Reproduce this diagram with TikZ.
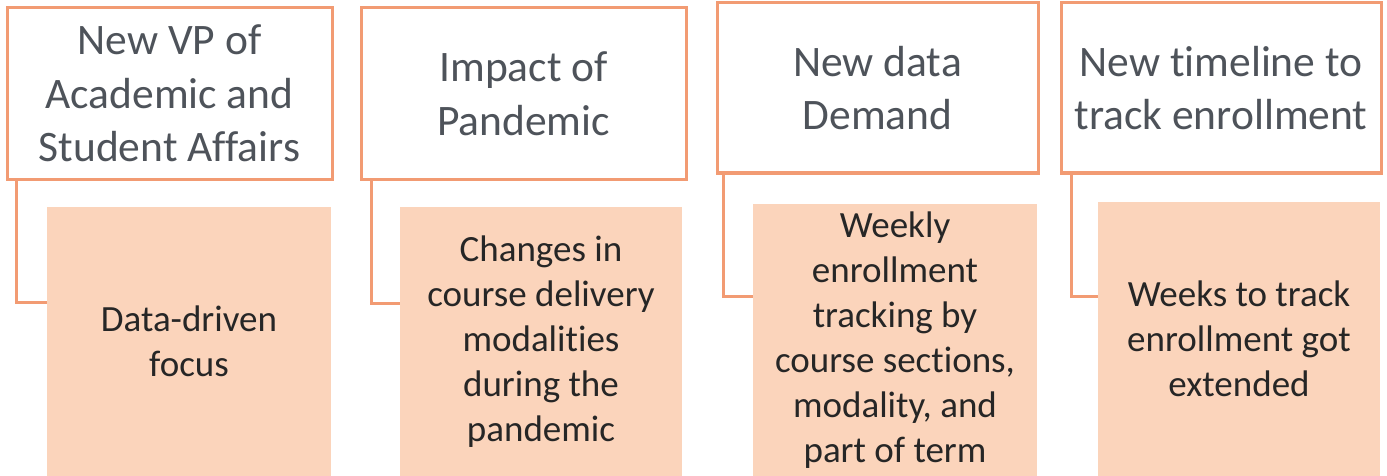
\documentclass[tikz,border=0pt]{standalone}
\usepackage{fontspec}
\setmainfont{Carlito}[RawFeature={-liga}]
\definecolor{orangeline}{RGB}{242,155,115}
\definecolor{peach}{RGB}{251,212,187}
\definecolor{toptext}{RGB}{78,83,90}
\definecolor{bottext}{RGB}{38,38,38}
\begin{document}
\begin{tikzpicture}[x=1pt,y=-1pt,
  topbox/.style={draw=orangeline,line width=3pt,fill=white,inner sep=0pt,align=center,
    text=toptext,font=\fontsize{43.5}{53.5}\selectfont},
  botbox/.style={fill=peach,inner sep=0pt,align=center,
    text=bottext,font=\fontsize{37}{45}\selectfont},
  conn/.style={draw=orangeline,line width=3pt}]
\useasboundingbox[fill=white] (0,0) rectangle (1387,476);
% top boxes
\node[topbox,minimum width=325pt,minimum height=171pt] (t1) at (169.5,93.5) {New VP of\\Academic and\\Student Affairs};
\node[topbox,minimum width=325pt,minimum height=171pt] (t2) at (523.5,93.5) {Impact of\\Pandemic};
\node[topbox,minimum width=321pt,minimum height=170pt] (t3) at (877.5,88) {New data\\Demand};
\node[topbox,minimum width=320pt,minimum height=170pt] (t4) at (1221,88) {New timeline to\\track enrollment};
% bottom boxes
\node[botbox,minimum width=284pt,minimum height=269pt] (b1) at (189,341.5) {Data-driven\\focus};
\node[botbox,minimum width=282pt,minimum height=269pt] (b2) at (541,341.5) {Changes in\\course delivery\\modalities\\during the\\pandemic};
\node[botbox,minimum width=284pt,minimum height=272pt] (b3) at (895,340) {Weekly\\enrollment\\tracking by\\course sections,\\modality, and\\part of term};
\node[botbox,minimum width=282pt,minimum height=274pt] (b4) at (1239,339) {Weeks to track\\enrollment got\\extended};
% connectors
\draw[conn] ([xshift=11pt]t1.south west) |- ([yshift=39.5pt]b1.west);
\draw[conn] ([xshift=12pt]t2.south west) |- ([yshift=38.5pt]b2.west);
\draw[conn] ([xshift=8pt]t3.south west) |- ([yshift=44pt]b3.west);
\draw[conn] ([xshift=12pt]t4.south west) |- ([yshift=43pt]b4.west);
\end{tikzpicture}
\end{document}
